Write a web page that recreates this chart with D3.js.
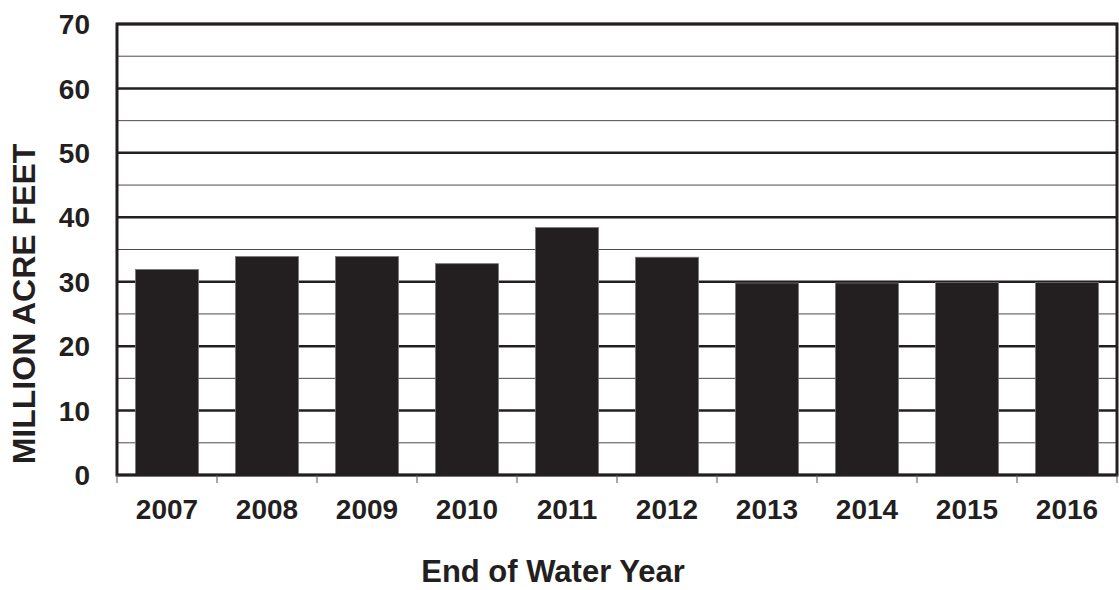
<!DOCTYPE html>
<html><head><meta charset="utf-8">
<script src="https://cdn.jsdelivr.net/npm/d3@7"></script>
<style>body{margin:0;background:#fff}svg{display:block}</style>
</head><body>
<script>
const years = ["2007","2008","2009","2010","2011","2012","2013","2014","2015","2016"];
const storage = [31.9, 33.9, 33.9, 32.8, 38.4, 33.8, 29.8, 29.8, 29.9, 29.9];
const yTicks = [0,10,20,30,40,50,60,70];
const minorTicks = [5,15,25,35,45,55,65];

const W = 1119, H = 590;
const m = {left:117, right:2, top:24, bottom:115};
const ink = "#231f20";
const font = "'Liberation Sans', Arial, sans-serif";

const svg = d3.select("body").append("svg").attr("width", W).attr("height", H);
const x = d3.scaleBand().domain(years).range([m.left, W - m.right]).paddingInner(0.37).paddingOuter(0.185);
const xb = d3.scaleBand().domain(years).range([m.left, W - m.right]);
const y = d3.scaleLinear().domain([0,70]).range([H - m.bottom, m.top]);

// minor gridlines
svg.append("g").selectAll("line").data(minorTicks).join("line")
  .attr("x1", m.left).attr("x2", W - m.right)
  .attr("y1", d => y(d)).attr("y2", d => y(d))
  .attr("stroke", ink).attr("stroke-width", 1).attr("opacity", 0.8);
// major gridlines
svg.append("g").selectAll("line").data(yTicks).join("line")
  .attr("x1", m.left).attr("x2", W - m.right)
  .attr("y1", d => y(d)).attr("y2", d => y(d))
  .attr("stroke", ink).attr("stroke-width", 2.5);

// bars
svg.append("g").selectAll("rect").data(years).join("rect")
  .attr("x", d => x(d)).attr("width", x.bandwidth())
  .attr("y", (d,i) => y(storage[i])).attr("height", (d,i) => y(0) - y(storage[i]))
  .attr("fill", ink).attr("stroke", "#777").attr("stroke-width", 0.8);

// frame
svg.append("rect").attr("x", m.left).attr("y", m.top)
  .attr("width", W - m.right - m.left).attr("height", y(0) - m.top)
  .attr("fill", "none").attr("stroke", ink).attr("stroke-width", 3);

// x ticks at band boundaries
const bounds = years.map(d => xb(d)).concat([W - m.right]);
svg.append("g").selectAll("line").data(bounds).join("line")
  .attr("x1", d => d).attr("x2", d => d)
  .attr("y1", y(0)).attr("y2", y(0) + 8)
  .attr("stroke", "#555").attr("stroke-width", 1);

// y tick labels
svg.append("g").selectAll("text").data(yTicks).join("text")
  .attr("x", 90).attr("y", d => y(d)).attr("dy", "0.36em")
  .attr("text-anchor", "end").attr("font-family", font).attr("font-weight", "bold")
  .attr("font-size", 28).attr("fill", ink).text(d => d);

// x tick labels
svg.append("g").selectAll("text").data(years).join("text")
  .attr("x", d => xb(d) + xb.bandwidth()/2).attr("y", 519)
  .attr("text-anchor", "middle").attr("font-family", font).attr("font-weight", "bold")
  .attr("font-size", 28).attr("fill", ink).text(d => d);

// axis titles
svg.append("text").attr("x", 553).attr("y", 582).attr("text-anchor", "middle")
  .attr("font-family", font).attr("font-weight", "bold").attr("font-size", 31)
  .attr("fill", ink).text("End of Water Year");
svg.append("text").attr("transform", "translate(35,304) rotate(-90)").attr("text-anchor", "middle")
  .attr("font-family", font).attr("font-weight", "bold").attr("font-size", 32)
  .attr("fill", ink).text("MILLION ACRE FEET");
</script>
</body></html>
